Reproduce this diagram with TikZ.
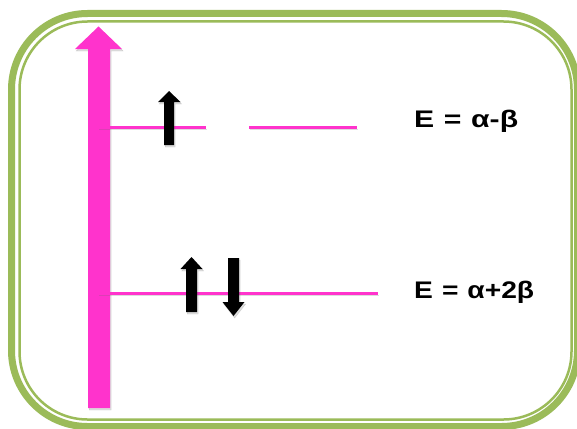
\documentclass[tikz,border=0pt]{standalone}
\usepackage{fontspec}
\usepackage{graphicx}
\newfontfamily\lblfont{Liberation Sans}
\definecolor{framegreen}{RGB}{155,187,89}
\definecolor{levelpink}{RGB}{255,51,204}
\tikzset{
  softshadow/.style={preaction={draw=black!60, fill=black!60, opacity=0.22,
      transform canvas={shift={(1.2pt,-2pt)}}}},
  lineshadow/.style={preaction={draw=black!60, opacity=0.22,
      transform canvas={shift={(1pt,-2pt)}}}},
  outerframe/.style={draw=framegreen, line width=7pt, rounded corners=76pt},
  innerframe/.style={draw=framegreen, line width=2.5pt, rounded corners=68pt},
  axisarrow/.style={fill=levelpink, softshadow},
  spinarrow/.style={fill=black, softshadow},
  level/.style={draw=levelpink, line width=3pt, lineshadow},
  energylabel/.style={inner sep=0pt, anchor=base west,
      font=\lblfont\bfseries\fontsize{24}{28}\selectfont}
}
\begin{document}
\begin{tikzpicture}[x=1pt, y=-1pt]
  % canvas
  \fill[white] (0,0) rectangle (577,428);
  \useasboundingbox (0,0) rectangle (577,428);

  % double green frame
  \draw[outerframe] (11.5,13.5) rectangle (577.5,426.5);
  \draw[innerframe] (19.5,21.5) rectangle (571.5,419.5);

  % energy axis
  \fill[axisarrow] (88,408) -- (88,49) -- (75,49) -- (98.5,26.5)
       -- (122,49) -- (110,49) -- (110,408) -- cycle;

  % level end points
  \coordinate (u1a) at (98,127);
  \coordinate (u1b) at (206,127);
  \coordinate (u2a) at (249,127);
  \coordinate (u2b) at (357,127);
  \coordinate (la)  at (98,293);
  \coordinate (lb)  at (378,293);

  % energy levels
  \draw[level] (u1a) -- (u1b);
  \draw[level] (u2a) -- (u2b);
  \draw[level] (la) -- (lb);

  % electron spins
  \fill[spinarrow] (164,145) -- (164,102) -- (158,102) -- (169,91)
       -- (180.5,102) -- (174,102) -- (174,145) -- cycle;
  \fill[spinarrow] (186,312) -- (186,269) -- (180.5,269) -- (191.5,257)
       -- (202.5,269) -- (197,269) -- (197,312) -- cycle;
  \fill[spinarrow] (228,258) -- (228,302) -- (222.5,302) -- (233.5,316)
       -- (244.5,302) -- (239,302) -- (239,258) -- cycle;

  % level energies
  \node[energylabel] (eup) at (414,127)
    {\resizebox{104pt}{\height}{E\hspace{1pt} = \hspace{1pt}α-β}};
  \node[energylabel] (elow) at (414,298)
    {\resizebox{120pt}{\height}{E\hspace{1pt} = \hspace{1pt}α+2β}};
\end{tikzpicture}
\end{document}
